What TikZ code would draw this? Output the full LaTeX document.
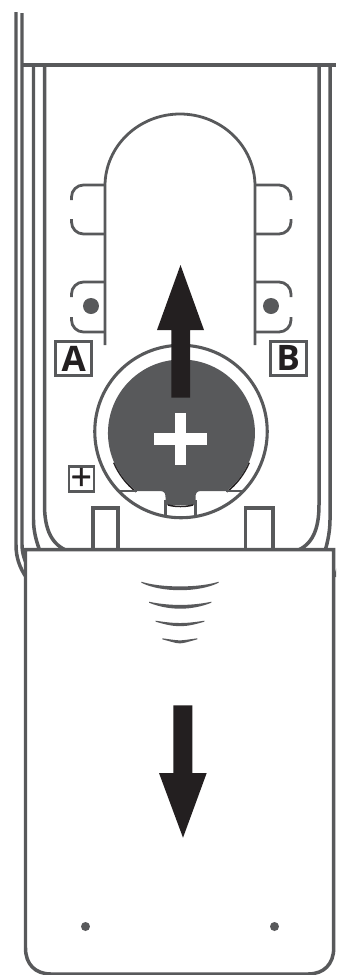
\documentclass[tikz,border=0pt]{standalone}
\usepackage{xcolor}
\usepackage{fontspec}
\setmainfont{Open Sans}
\usepackage{tikz}
\usetikzlibrary{positioning, arrows.meta}
\definecolor{casegrey}{HTML}{58595B}
\definecolor{inkblack}{HTML}{231F20}

\begin{document}
\begin{tikzpicture}[
    x=0.02cm, y=-0.02cm,
    shell/.style={draw=casegrey, line width=0.07cm},
    thinline/.style={draw=casegrey, line width=0.056cm},
    slot/.style={draw=casegrey, line width=0.064cm, fill=white},
    letterbox/.style={rectangle, draw=casegrey, fill=white, line width=0.064cm, minimum width=0.72cm, minimum height=0.69cm, inner sep=0pt, font=\fontsize{20}{20}\selectfont\bfseries, text=inkblack},
    polaritybox/.style={rectangle, draw=casegrey, fill=white, line width=0.044cm, minimum size=0.5cm, inner sep=0pt, font=\fontsize{21}{21}\selectfont\addfontfeature{FakeBold=1}, text=inkblack},
    ring/.style={circle, draw=casegrey, fill=white, line width=0.062cm, minimum size=3.45cm, inner sep=0pt},
    dot/.style={circle, fill=casegrey, inner sep=0pt},
    wave/.style={fill=casegrey},
    arrowshape/.style={fill=inkblack},
]
\useasboundingbox (0,0) rectangle (336,975);
\clip (0,0) rectangle (336,975);

% Outer shell
\draw[shell] (16,12) -- (16,545) .. controls (16,558) and (20,568) .. (26,577);
\draw[shell] (22,13) -- (22,545) .. controls (22,552) and (24,558) .. (26,563);
\draw[shell] (22,65) -- (336,65);
\draw[shell] (33.5,65) -- (33.5,520) .. controls (33.5,530) and (36,541) .. (40,551);
\draw[shell] (44.5,65) -- (44.5,505) .. controls (44.5,530) and (52,545) .. (68,551);
\draw[shell] (319,65) -- (319,505) .. controls (319,530) and (312,545) .. (296,551);
\draw[shell] (330,65) -- (330,520) .. controls (330,530) and (328,541) .. (325,551);
\draw[shell] (345,545) -- (335.5,577);

% Dome
\draw[thinline] (105,345) -- (105,186) arc[start angle=180, end angle=360, x radius=75, y radius=72] -- (255,345);

% Side tabs
\foreach \y/\h in {185/234, 282/332} {
    \draw[thinline, rounded corners=0.24cm] (105,\y) -- (71.5,\y) -- (71.5,\y+15);
    \draw[thinline, rounded corners=0.24cm] (71.5,\h-15) -- (71.5,\h) -- (105,\h);
    \draw[thinline, rounded corners=0.24cm] (255,\y) -- (291,\y) -- (291,\y+15);
    \draw[thinline, rounded corners=0.24cm] (291,\h-15) -- (291,\h) -- (255,\h);
}
\node[dot, minimum size=0.32cm] (pinL) at (91,306) {};
\node[dot, minimum size=0.32cm] (pinR) at (271,306) {};

% Labels
\node[letterbox] (boxA) at (73.8,358.4) {A};
\node[letterbox] (boxB) at (288.2,358.4) {B};
\node[polaritybox] (boxPlus) at (81.3,479) {+};

% Slots
\draw[slot] (93,551) -- (93,508) -- (118,508) -- (118,551);
\draw[slot] (245.5,551) -- (245.5,508) -- (273,508) -- (273,551);

% Battery holder
\node[ring] (holder) at (181,431.5) {};
\draw[draw=inkblack, line width=0.03cm] (113.8,462.7) arc[start angle=157, end angle=128, radius=73.5];
\draw[draw=inkblack, line width=0.03cm] (226.8,491.9) arc[start angle=52, end angle=23, radius=73.5];
\fill[casegrey] (226.6,491) arc[start angle=52.1, end angle=-232.1, radius=73.5]
    -- (160,491) .. controls (164,491) and (165.5,493) .. (165.5,497) -- (165.5,505)
    -- (195.5,505) -- (195.5,497) .. controls (195.5,493) and (197,491) .. (201,491) -- cycle;
\draw[thinline, line width=0.03cm] (118,491) -- (137,491);
\draw[thinline, line width=0.03cm] (226,491) -- (244,491);
\draw[thinline] (165.7,500) -- (165.7,517);
\draw[thinline] (195.3,500) -- (195.3,517);
\draw[draw=inkblack, line width=0.03cm] (168,505) .. controls (175,507) and (186,507) .. (193,505);

% White plus on the battery
\fill[white] (175,412.7) rectangle (186,465);
\fill[white] (154.3,433) rectangle (206.7,445);

% Arrow up
\fill[arrowshape] (171.3,397.5) -- (171.3,330) -- (157,330) -- (180.5,265) -- (204,330) -- (190,330) -- (190,397.5) -- cycle;

% Cover panel
\draw[shell, fill=white] (25.5,549.5) -- (333.7,549.5) -- (333.7,948) .. controls (333.7,964) and (324,974) .. (308,974)
    -- (51,974) .. controls (35,974) and (25.5,964) .. (25.5,948) -- cycle;

% Grip lines
\foreach \xa/\xb/\ya/\yt/\yb in {141.3/218.7/581.7/586.5/590.7, 149/211.3/601.7/604.5/608.7, 155.7/204.3/620.7/622.3/625.7, 162.3/197.3/638.3/639.5/642.7} {
    \fill[wave] (\xa,\ya) .. controls (\xa+20,\yt+1.5) and (\xb-20,\yt+1.5) .. (\xb,\ya)
        -- (\xb,\ya+1) .. controls (\xb-20,\yb+2) and (\xa+20,\yb+2) .. (\xa,\ya+1) -- cycle;
}

% Arrow down
\fill[arrowshape] (173.3,705.3) -- (192.3,705.3) -- (192.3,773) -- (206.7,773) -- (183,837.7) -- (159,773) -- (173.3,773) -- cycle;

% Screws
\node[dot, minimum size=0.18cm] (screwL) at (85.5,926.5) {};
\node[dot, minimum size=0.18cm] (screwR) at (274.5,926.5) {};

\end{tikzpicture}
\end{document}
